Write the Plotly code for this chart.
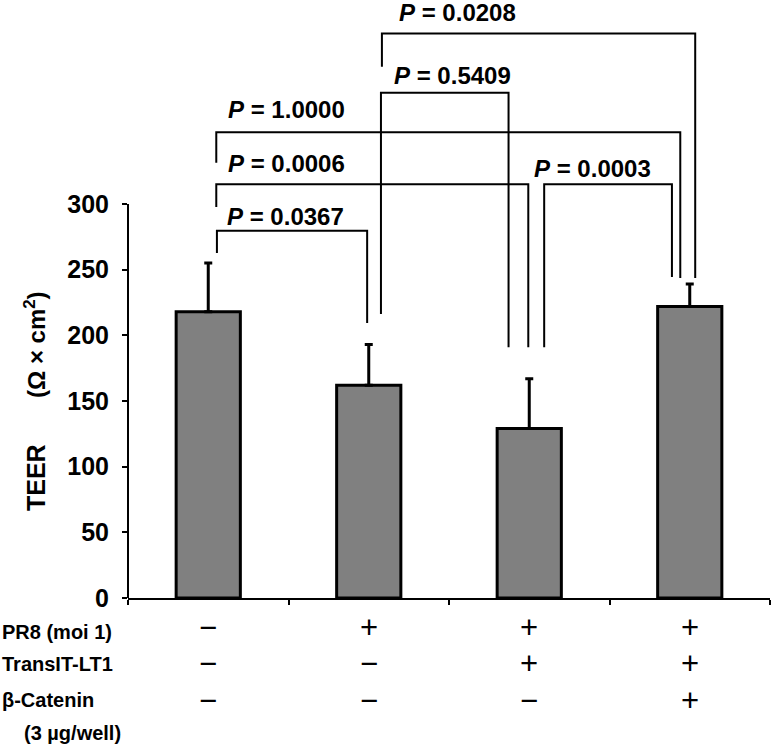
import plotly.graph_objects as go

# ---- data ----
groups = [0, 1, 2, 3]
teer_mean = [218, 162, 129, 222]
teer_err = [37, 31, 38, 17]
y_ticks = [0, 50, 100, 150, 200, 250, 300]

row_labels = ["PR8 (moi 1)", "TransIT-LT1", "β-Catenin"]
row_signs = [
    ["−", "+", "+", "+"],
    ["−", "−", "+", "+"],
    ["−", "−", "−", "+"],
]
row_note = "(3 µg/well)"

p_values = ["0.0367", "0.0006", "1.0000", "0.5409", "0.0208", "0.0003"]

# ---- layout constants (pixels) ----
W, H = 774, 745
ML, MR, MT, MB = 128, 4, 4, 147
PW, PH = W - ML - MR, H - MT - MB
YMAX = 300 * PH / 394.0  # 300 units span 394 px
FONT = "Liberation Sans, Arial, sans-serif"

def py(px_y):  # pixel y -> paper
    return (H - MB - px_y) / PH

def px(px_x):  # pixel x -> paper
    return (px_x - ML) / PW

# bracket geometry (data units): xL, xR, yTop, yLeftBottom, yRightBottom, label x-left, label y-center
brackets = [
    (0.054, 0.99, 279.7, 262.7, 209.4, 0.106, 290.8),
    (0.050, 1.994, 315.0, 297.7, 191.0, 0.112, 331.2),
    (0.050, 2.941, 354.6, 331.5, 243.7, 0.112, 371.6),
    (1.076, 1.871, 384.8, 216.3, 191.0, 1.146, 397.5),
    (1.082, 3.034, 429.9, 404.6, 243.7, 1.178, 445.5),
    (2.093, 2.889, 315.0, 191.0, 244.4, 2.019, 327.4),
]

fig = go.Figure()
fig.add_trace(go.Bar(
    x=groups, y=teer_mean, width=0.4,
    marker=dict(color="#808080", line=dict(color="black", width=3)),
    error_y=dict(type="data", array=teer_err, arrayminus=[0] * len(teer_err),
                 symmetric=False, color="black", thickness=3, width=4),
    showlegend=False, hoverinfo="skip",
))

annotations = []
for (xl, xr, yt, ylb, yrb, lx, ly), p in zip(brackets, p_values):
    fig.add_trace(go.Scatter(
        x=[xl, xl, xr, xr], y=[ylb, yt, yt, yrb], mode="lines",
        line=dict(color="black", width=2), showlegend=False, hoverinfo="skip",
    ))
    annotations.append(dict(
        x=lx, y=ly, xref="x", yref="y", xanchor="left", yanchor="middle",
        text=f"<b><i>P</i> = {p}</b>", showarrow=False,
        font=dict(family=FONT, size=24, color="black"),
    ))

# y-axis title pieces
annotations.append(dict(x=px(36), y=py(478), xref="paper", yref="paper",
                        xanchor="center", yanchor="middle",
                        text="<b>TEER</b>", textangle=-90, showarrow=False,
                        font=dict(family=FONT, size=25, color="black")))
annotations.append(dict(x=px(35), y=py(345), xref="paper", yref="paper",
                        xanchor="center", yanchor="middle",
                        text="<b>(Ω × cm<sup>2</sup>)</b>", textangle=-90, showarrow=False,
                        font=dict(family=FONT, size=24, color="black")))

# condition table below the axis
row_y = [632, 664, 700]
sign_y = [627, 663, 700]
for lab, signs, ry, sy in zip(row_labels, row_signs, row_y, sign_y):
    annotations.append(dict(x=px(0), y=py(ry), xref="paper", yref="paper",
                            xanchor="left", yanchor="middle", text=f"<b>{lab}</b>",
                            showarrow=False, font=dict(family=FONT, size=20, color="black")))
    for g, s in zip(groups, signs):
        annotations.append(dict(x=g, y=py(sy), xref="x", yref="paper",
                                xanchor="center", yanchor="middle",
                                text=s, showarrow=False,
                                font=dict(family=FONT, size=31, color="black")))
annotations.append(dict(x=px(22), y=py(733), xref="paper", yref="paper",
                        xanchor="left", yanchor="middle", text=f"<b>{row_note}</b>",
                        showarrow=False, font=dict(family=FONT, size=20, color="black")))

fig.update_layout(
    width=W, height=H, margin=dict(l=ML, r=MR, t=MT, b=MB, autoexpand=False),
    plot_bgcolor="white", paper_bgcolor="white",
    annotations=annotations,
    shapes=[dict(type="line", xref="paper", yref="y", x0=0, x1=0, y0=0, y1=300,
                 line=dict(color="black", width=2))],
    xaxis=dict(range=[-0.5, 3.5], showgrid=False, zeroline=False,
               showline=True, linecolor="black", linewidth=2,
               tickvals=[-0.5, 0.5, 1.5, 2.5, 3.5], ticks="outside", ticklen=5,
               tickwidth=2, tickcolor="black", showticklabels=False),
    yaxis=dict(range=[0, YMAX], showgrid=False, zeroline=False, showline=False,
               tickvals=y_ticks, ticks="outside", ticklen=5, tickwidth=2,
               tickcolor="black", ticklabelstandoff=8,
               tickfont=dict(family=FONT, size=25, color="black", weight="bold")),
)

fig.write_html("out.html", config={"displayModeBar": False},
               post_script="document.body.style.margin='0';document.body.style.overflow='hidden';")
